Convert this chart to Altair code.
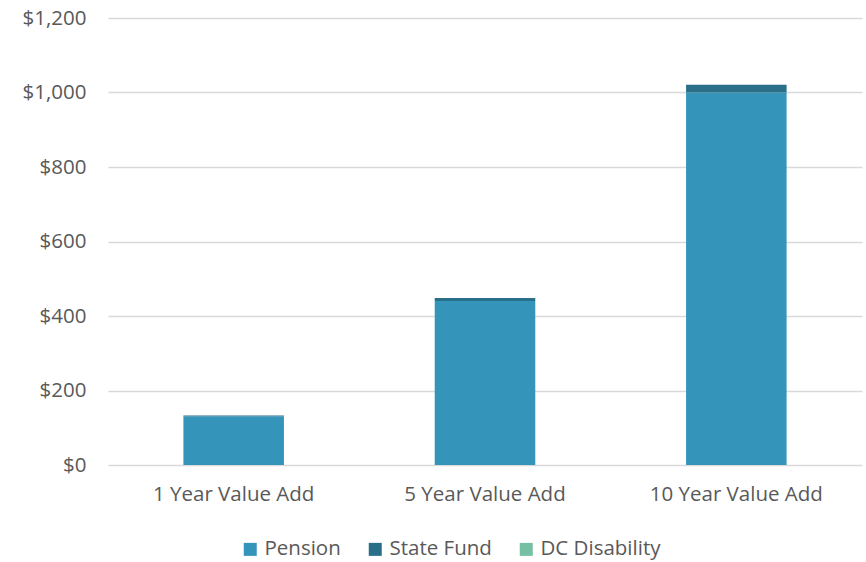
import altair as alt
import pandas as pd

# Value added by horizon, stacked by fund
horizons = ["1 Year Value Add", "5 Year Value Add", "10 Year Value Add"]
funds = ["Pension", "State Fund", "DC Disability"]
pension = [131, 440, 1000]
state_fund = [2, 8, 21]
dc_disability = [0, 0, 0]
colors = ["#3494ba", "#2a6f8a", "#75bfa3"]

rows = []
for i, h in enumerate(horizons):
    for j, (f, vals) in enumerate(zip(funds, [pension, state_fund, dc_disability])):
        rows.append({"horizon": h, "fund": f, "value": vals[i], "order": j})
df = pd.DataFrame(rows)

font = "Open Sans"
text_color = "#595959"
fs = 20.5

chart = (
    alt.Chart(df)
    .mark_bar()
    .encode(
        x=alt.X(
            "horizon:N",
            sort=horizons,
            title=None,
            scale=alt.Scale(paddingInner=0.6, paddingOuter=0.3),
            axis=alt.Axis(
                labelAngle=0,
                labelFontSize=fs,
                labelColor=text_color,
                labelFont=font,
                labelPadding=19,
                domain=False,
                ticks=False,
                grid=False,
            ),
        ),
        y=alt.Y(
            "value:Q",
            stack="zero",
            title=None,
            scale=alt.Scale(domain=[0, 1200], nice=False),
            axis=alt.Axis(
                values=[0, 200, 400, 600, 800, 1000, 1200],
                format="$,.0f",
                labelFontSize=fs,
                labelColor=text_color,
                labelFont=font,
                labelPadding=22,
                domain=False,
                ticks=False,
                gridColor="#d9d9d9",
                gridWidth=1.5,
            ),
        ),
        color=alt.Color(
            "fund:N",
            sort=funds,
            scale=alt.Scale(domain=funds, range=colors),
            legend=alt.Legend(
                title=None,
                orient="none",
                direction="horizontal",
                legendX=132,
                legendY=521,
                symbolType="square",
                symbolSize=169,
                symbolStrokeWidth=0,
                labelFontSize=fs,
                labelColor=text_color,
                labelFont=font,
                labelOffset=4,
                columnPadding=24,
            ),
        ),
        order=alt.Order("order:Q", sort="ascending"),
    )
    .properties(
        width=754,
        height=447,
        background="white",
        autosize=alt.AutoSizeParams(type="none"),
        padding={"left": 108, "top": 18, "right": 4, "bottom": 97},
    )
    .configure_view(strokeWidth=0, stroke="transparent")
)

chart.save("out.html", embed_options={"renderer": "svg", "actions": False})
